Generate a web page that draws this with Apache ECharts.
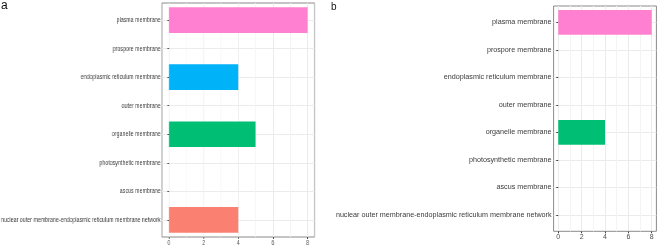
<!DOCTYPE html>
<html><head><meta charset="utf-8">
<script src="https://cdn.jsdelivr.net/npm/echarts@6/dist/echarts.min.js"></script>
<style>
html,body{margin:0;padding:0;background:#fff}
#wrap{position:relative;width:658px;height:248px;overflow:hidden}
#cb{position:absolute;left:0;top:0;width:658px;height:248px}
#ca{position:absolute;left:0;top:0;width:446px;height:248px;transform:scaleX(0.74);transform-origin:0 0}
</style>
</head><body><div id="wrap"><div id="cb"></div><div id="ca"></div></div>
<script>
// data
const categories = ["plasma membrane","prospore membrane","endoplasmic reticulum membrane","outer membrane","organelle membrane","photosynthetic membrane","ascus membrane","nuclear outer membrane-endoplasmic reticulum membrane network"];
const valuesA = [8, 0, 4, 0, 5, 0, 0, 4];
const valuesB = [8, 0, 0, 0, 4, 0, 0, 0];
const xTicks = [0, 2, 4, 6, 8];
const xMinorTicks = [1, 3, 5, 7];
const panelLabels = ["a", "b"];

// styles
const barColors = ["#FF7FD0", "#CD9600", "#00B2F8", "#00BFC4", "#00BF74", "#7CAE00", "#C77CFF", "#FA8072"];
const rowPos = categories.map((_, i) => i + 1);
const xMin = -0.4, xMax = 8.4, yMin = 0.4, yMax = 8.6;
const FONT = "'Liberation Sans', Arial, sans-serif";

function panel(frame, labelMargin) {
  const u = frame.height / (yMax - yMin);
  const grids = [
    {left: frame.left, top: frame.top, width: frame.width, height: frame.height, show: true, borderColor: '#8a8a8a', borderWidth: 1, backgroundColor: 'transparent', containLabel: false, outerBoundsMode: 'none'},
    {left: frame.left, top: frame.top + (1 - yMin - 0.5) * u, width: frame.width, height: categories.length * u, containLabel: false, outerBoundsMode: 'none'}
  ];
  const xAxes = [
    {gridIndex: 0, type: 'value', min: xMin, max: xMax,
     axisLine: {show: false},
     axisTick: {show: true, customValues: xTicks, length: 2, lineStyle: {color: '#444'}},
     axisLabel: {customValues: xTicks, fontSize: 7, color: '#4d4d4d', margin: labelMargin, fontFamily: FONT},
     splitLine: {show: true, lineStyle: {color: '#ebebeb', width: 1}}},
    {gridIndex: 0, type: 'value', min: xMin, max: xMax,
     axisLine: {show: false},
     axisTick: {show: false, customValues: xMinorTicks},
     axisLabel: {show: false},
     splitLine: {show: true, lineStyle: {color: '#f4f4f4', width: 1}}},
    {gridIndex: 1, type: 'value', min: xMin, max: xMax, show: false}
  ];
  const yAxes = [
    {gridIndex: 0, type: 'value', min: yMin, max: yMax,
     axisLine: {show: false}, axisLabel: {show: false},
     axisTick: {show: false, customValues: rowPos},
     splitLine: {show: true, lineStyle: {color: '#ebebeb', width: 1}}},
    {gridIndex: 1, type: 'category', data: categories, inverse: true,
     axisLine: {show: false},
     axisTick: {show: true, alignWithLabel: true, length: 2, lineStyle: {color: '#444'}},
     axisLabel: {fontSize: 7.2, color: '#3a3a3a', margin: 2, fontFamily: FONT},
     splitLine: {show: false}}
  ];
  return {grid: grids, xAxis: xAxes, yAxis: yAxes};
}

function barSeries(values) {
  return [{type: 'bar', xAxisIndex: 2, yAxisIndex: 1, data: values, barWidth: '90%',
           itemStyle: {color: p => barColors[p.dataIndex]}}];
}

// panel a is drawn in a horizontally compressed frame, as in the reference figure
const sA = 0.74;
const optA = Object.assign({animation: false, backgroundColor: 'transparent', series: barSeries(valuesA)},
  panel({left: 162 / sA, top: 3, width: 152.5 / sA, height: 234}, 3));
const optB = Object.assign({animation: false, backgroundColor: '#fff', series: barSeries(valuesB),
  title: [
    {text: panelLabels[0], left: 1, top: 0, padding: 0, textStyle: {fontSize: 12, fontWeight: 'normal', color: '#111', fontFamily: FONT}},
    {text: panelLabels[1], left: 331, top: 2.5, padding: 0, textStyle: {fontSize: 10, fontWeight: 'normal', color: '#111', fontFamily: FONT}}
  ]},
  panel({left: 553.6, top: 6, width: 102.8, height: 225.3}, 2));

echarts.init(document.getElementById('cb'), null, {renderer: 'canvas'}).setOption(optB);
echarts.init(document.getElementById('ca'), null, {renderer: 'canvas'}).setOption(optA);
</script></body></html>
